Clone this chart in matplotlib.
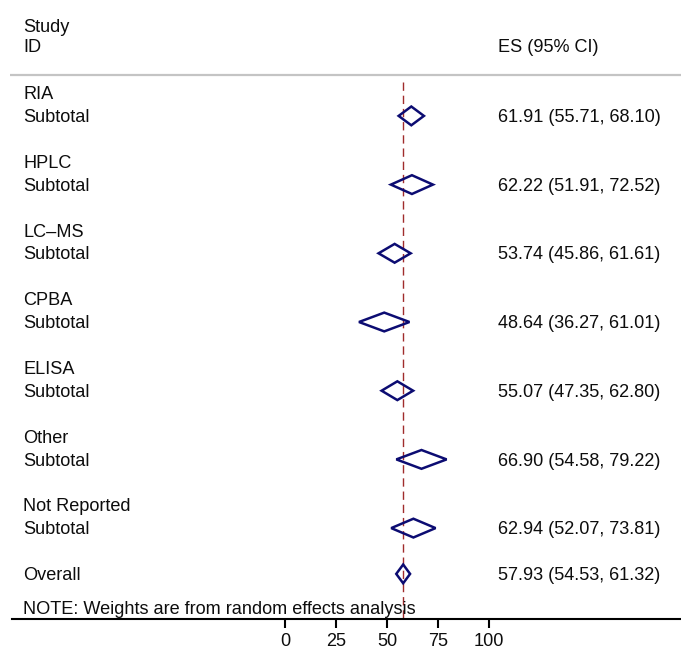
import matplotlib
matplotlib.use("Agg")
import matplotlib.pyplot as plt
from matplotlib.patches import Polygon

plt.rcParams['font.family'] = ['Liberation Sans', 'DejaVu Sans']
plt.rcParams['lines.scale_dashes'] = False

# Subgroup pooled estimates (ES with 95% CI)
groups = ["RIA", "HPLC", "LC\u2013MS", "CPBA", "ELISA", "Other", "Not Reported"]
es = [61.91, 62.22, 53.74, 48.64, 55.07, 66.90, 62.94]
lo = [55.71, 51.91, 45.86, 36.27, 47.35, 54.58, 52.07]
hi = [68.10, 72.52, 61.61, 61.01, 62.80, 79.22, 73.81]

overall_es = 57.93
overall_lo = 54.53
overall_hi = 61.32

xticks = [0, 25, 50, 75, 100]
note = "NOTE: Weights are from random effects analysis"

W, H, DPI = 681, 650, 100
fig = plt.figure(figsize=(W / DPI, H / DPI), dpi=DPI)

# Axes spans the full width; x is the effect-size scale, y counts text rows
px_per_unit = 2.04
x0_px = 285.0
row0_px, row_px = 93.0, 22.9
axis_px = 619.0
ax = fig.add_axes([0, (H - axis_px) / H, 1, axis_px / H])
ax.set_xlim(-x0_px / px_per_unit, (W - x0_px) / px_per_unit)
ax.set_ylim((axis_px - row0_px) / row_px, -row0_px / row_px)

left_x = (23 - x0_px) / px_per_unit
right_x = (498 - x0_px) / px_per_unit
fs = 13.1
tc = "#0d0d0d"
base = 0.27  # baseline offset below a row centre

# Header
ax.text(left_x, -2.66, "Study", fontsize=fs, color=tc, va="baseline")
ax.text(left_x, -1.79, "ID", fontsize=fs, color=tc, va="baseline")
ax.text(right_x, -1.79, "ES (95% CI)", fontsize=fs, color=tc, va="baseline")
ax.plot([(10 - x0_px) / px_per_unit, (W - x0_px) / px_per_unit], [-0.79, -0.79],
        color="#c4c4c4", lw=1.6, solid_capstyle="butt", clip_on=False)

navy = "#0c0c72"
half_h = 0.41

def diamond(row, e, l, h):
    pts = [(l, row), (e, row - half_h), (h, row), (e, row + half_h)]
    ax.add_patch(Polygon(pts, closed=True, fill=False, edgecolor=navy,
                         lw=1.8, joinstyle="miter", zorder=3))

for i, g in enumerate(groups):
    r = 3 * i
    ax.text(left_x, r + base, g, fontsize=fs, color=tc, va="baseline")
    ax.text(left_x, r + 1 + base, "Subtotal", fontsize=fs, color=tc, va="baseline")
    diamond(r + 1, es[i], lo[i], hi[i])
    ax.text(right_x, r + 1 + base, f"{es[i]:.2f} ({lo[i]:.2f}, {hi[i]:.2f})",
            fontsize=fs, color=tc, va="baseline")

r_over = 3 * len(groups)
ax.text(left_x, r_over + base, "Overall", fontsize=fs, color=tc, va="baseline")
diamond(r_over, overall_es, overall_lo, overall_hi)
ax.text(right_x, r_over + base,
        f"{overall_es:.2f} ({overall_lo:.2f}, {overall_hi:.2f})",
        fontsize=fs, color=tc, va="baseline")

ax.text(left_x, 22.73, note, fontsize=fs, color=tc, va="baseline")

# Reference line at the overall estimate
ax.plot([overall_es, overall_es], [-0.5, ax.get_ylim()[0]], color="#a02c2c",
        lw=1.0, linestyle=(0, (6, 3.5)), zorder=2)

# Bottom axis
for s in ["top", "left", "right"]:
    ax.spines[s].set_visible(False)
ax.spines["bottom"].set_linewidth(1.5)
ax.spines["bottom"].set_bounds((12 - x0_px) / px_per_unit, (W - x0_px) / px_per_unit)
ax.set_xticks(xticks)
ax.set_xticklabels([str(t) for t in xticks])
ax.tick_params(axis="x", length=6.5, width=1.5, pad=3.5, labelsize=fs, labelcolor=tc)
ax.set_yticks([])
ax.patch.set_visible(False)

fig.savefig("out.png", dpi=DPI, facecolor="white")
